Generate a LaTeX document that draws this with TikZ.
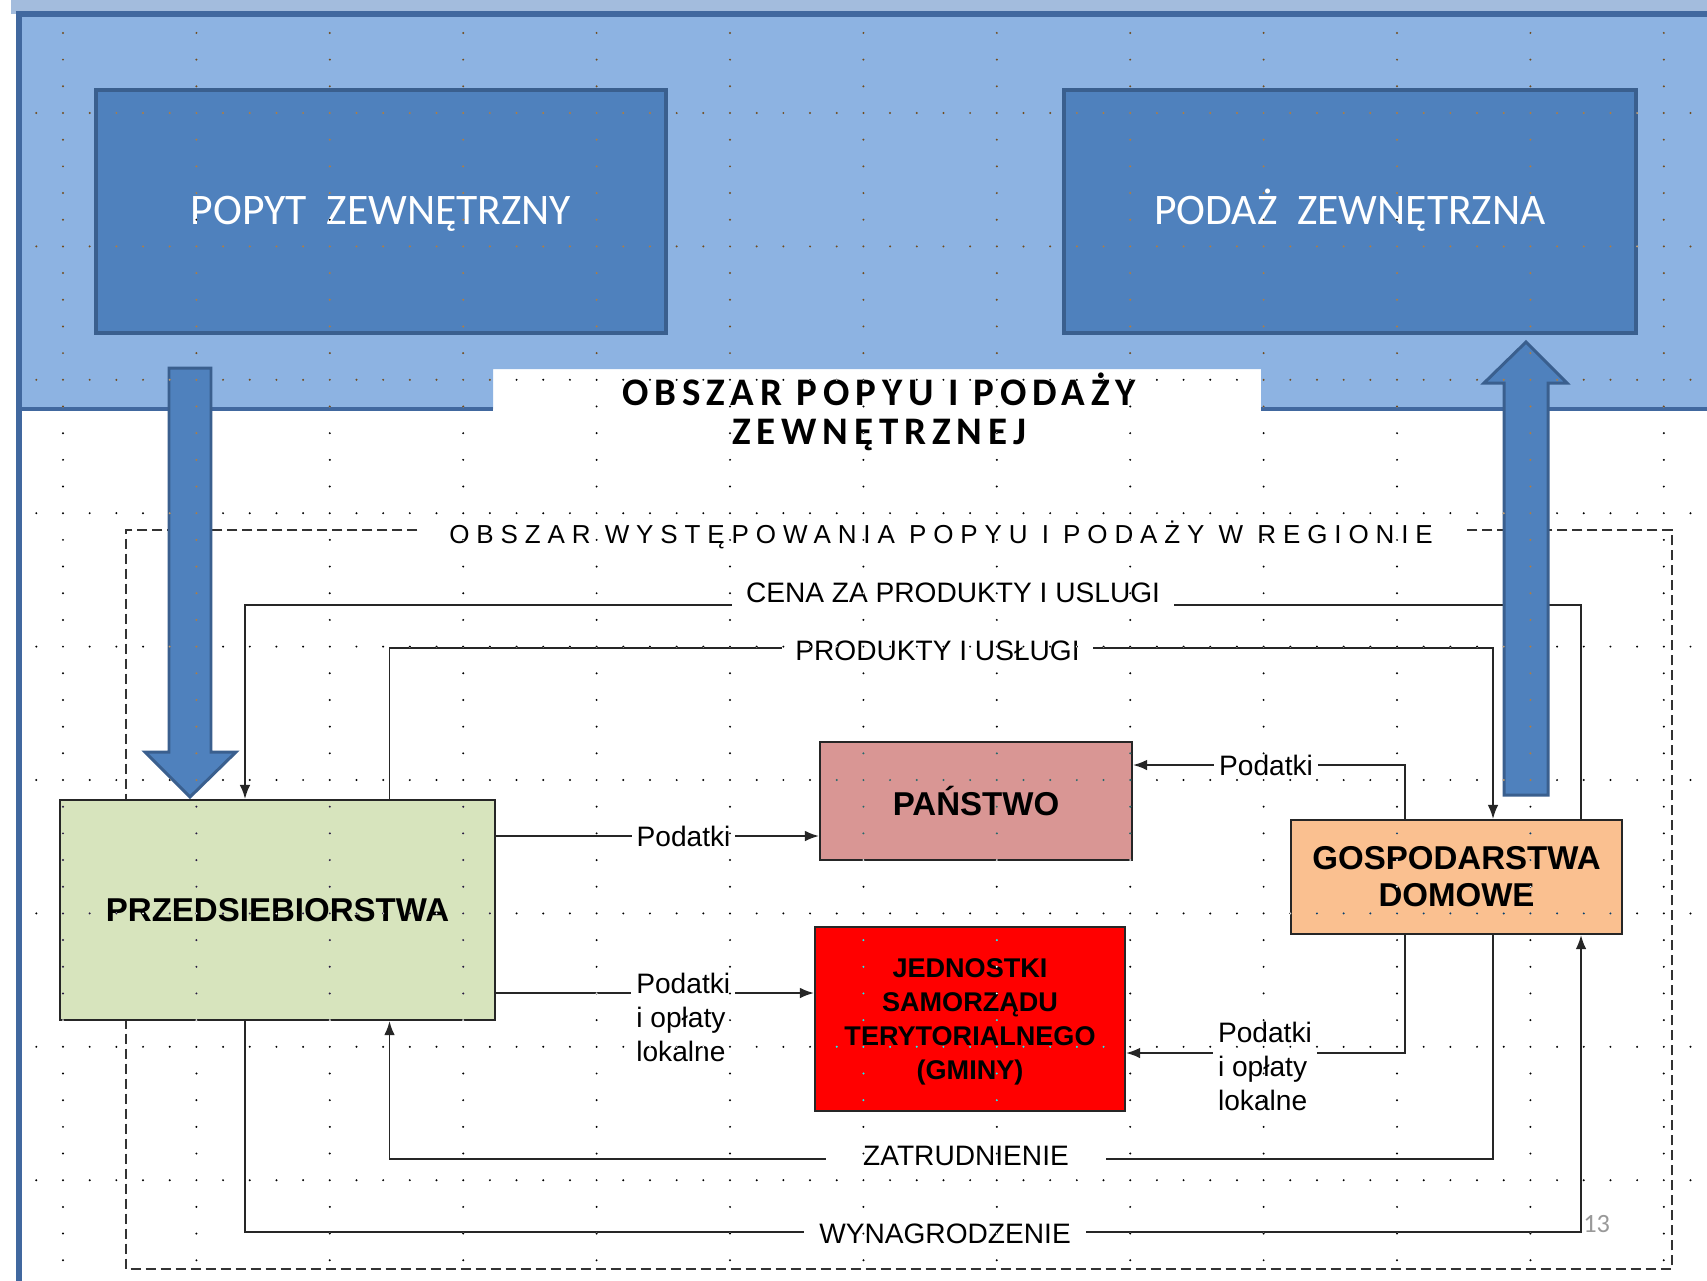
\documentclass[tikz,border=0pt]{standalone}
\usepackage{fontspec}
\setmainfont{Liberation Sans}
\newfontfamily\calibri{Carlito}
\newfontfamily\titlefont[LetterSpace=15]{Carlito}
\newfontfamily\spacedfont[LetterSpace=26.5]{Liberation Sans}
\usepackage{tikz}
\usetikzlibrary{arrows.meta}
\definecolor{stripblue}{HTML}{A3BCDD}
\definecolor{areablue}{HTML}{8DB3E2}
\definecolor{arealine}{HTML}{41689F}
\definecolor{boxblue}{HTML}{4F81BD}
\definecolor{boxline}{HTML}{3A5F8E}
\definecolor{przedgreen}{HTML}{D7E4BD}
\definecolor{panstwopink}{HTML}{D99694}
\definecolor{gospfill}{HTML}{FAC090}
\colorlet{flowcolor}{black!85}
\tikzstyle{flowhead}=[>/.tip={Latex[length=8pt,width=6pt]}]
\tikzstyle{flow}=[line width=1.1pt,draw=flowcolor,flowhead,->]
\tikzstyle{lab}=[fill=white,inner xsep=1mm,inner ysep=1.2mm,font=\fontsize{16}{19.6}\selectfont]
\tikzstyle{outer}=[draw=boxline,fill=boxblue,line width=2.3pt,inner sep=0pt,text=white,font=\calibri\fontsize{24.8}{30}\selectfont]
\tikzstyle{actor}=[draw=flowcolor,line width=1.1pt,inner sep=0pt,align=center,font=\bfseries\fontsize{18.8}{21}\selectfont]
\tikzstyle{regionline}=[draw=black!80,line width=1pt,dash pattern=on 2mm off 1mm]
\tikzstyle{bigarrow}=[fill=boxblue,draw=boxline,line width=1.7pt,line join=miter]

\begin{document}
\begin{tikzpicture}[x=0.2mm,y=-0.2mm]
	\useasboundingbox (0,0) rectangle (1707,1280);
	\fill[white] (0,0) rectangle (1707,1280);
	% area of external supply and demand
	\fill[stripblue] (11,0) rectangle (1707,14);
	\fill[areablue] (19,14) -- (1720,14) -- (1720,409) -- (1261,409) -- (1261,369)
	  -- (493,369) -- (493,409) -- (19,409) -- cycle;
	\draw[arealine,line width=3.1pt] (19,1290) -- (19,14) -- (1720,14);
	\draw[arealine,line width=2.3pt] (19,409) -- (493,409) (1261,409) -- (1720,409);
	\node[outer,minimum width=114mm,minimum height=48.6mm] (popyt) at (381,211.5) {\raisebox{-2.5mm}[0pt][0pt]{POPYT\ \ ZEWNĘTRZNY}};
	\node[outer,minimum width=114.4mm,minimum height=48.6mm] (podaz) at (1350,211.5) {\raisebox{-2.5mm}[0pt][0pt]{PODAŻ\ \ ZEWNĘTRZNA}};
	\node[anchor=base,inner sep=0pt,font=\titlefont\bfseries\fontsize{22.2}{22.2}\selectfont] (title) at (879,405)
	  {\begin{tabular}[t]{@{}c@{}}OBSZAR POPYU I PODAŻY\\ZEWNĘTRZNEJ\end{tabular}};

	% region frame
	\coordinate (dashTL) at (126,530);
	\coordinate (dashBL) at (126,1269);
	\coordinate (dashBR) at (1672,1269);
	\coordinate (dashTR) at (1672,530);
	\node[anchor=base,inner xsep=6.3mm,inner ysep=1mm,font=\spacedfont\fontsize{14.8}{18}\selectfont] (lregion) at (941,543)
	  {OBSZAR WYSTĘPOWANIA POPYU I PODAŻY W REGIONIE};
	\draw[regionline] (lregion.west |- dashTL) -- (dashTL) -- (dashBL) -- (dashBR) -- (dashTR) -- (lregion.east |- dashTR);

	% actors
	\node[actor,fill=przedgreen,minimum width=87mm,minimum height=44mm] (przed) at (277.5,910) {PRZEDSIEBIORSTWA};
	\node[actor,fill=panstwopink,minimum width=62.4mm,minimum height=23.6mm] (panstwo) at (976,801) {PAŃSTWO};
	\node[actor,fill=red,minimum width=62mm,minimum height=36.8mm,font=\bfseries\fontsize{15.4}{19.3}\selectfont] (jst) at (970,1019)
	  {\raisebox{8.26mm}[0pt][0pt]{\begin{tabular}[t]{@{}c@{}}JEDNOSTKI\\SAMORZĄDU\\TERYTORIALNEGO\\(GMINY)\end{tabular}}};
	\node[actor,fill=gospfill,minimum width=66.2mm,minimum height=22.8mm] (gosp) at (1456.5,877) {GOSPODARSTWA\\DOMOWE};

	% flows
	\coordinate (cA) at (245,0);
	\coordinate (cB) at (389.5,0);
	\coordinate (cC) at (1405,0);
	\coordinate (cD) at (1493,0);
	\coordinate (cE) at (1581,0);
	\coordinate (rCena) at (0,605);
	\coordinate (rProd) at (0,648);
	\coordinate (rPanR) at (0,765);
	\coordinate (rPanL) at (0,836);
	\coordinate (rJstL) at (0,993);
	\coordinate (rJstR) at (0,1053);
	\coordinate (rZatr) at (0,1159);
	\coordinate (rWyn) at (0,1232);
	\draw[flow] (gosp.north -| cE) |- (rCena -| cA) -- (przed.north -| cA);
	\draw[flow] (przed.north -| cB) |- (rProd -| cD) -- (gosp.north -| cD);
	\draw[flow] (przed.east |- rPanL) -- (panstwo.west |- rPanL);
	\draw[flow] (przed.east |- rJstL) -- (jst.west |- rJstL);
	\draw[flow] (gosp.north -| cC) |- (panstwo.east |- rPanR);
	\draw[flow] (gosp.south -| cC) |- (jst.east |- rJstR);
	\draw[flow] (gosp.south -| cD) |- (rZatr -| cB) -- (przed.south -| cB);
	\draw[flow] (przed.south -| cA) |- (rWyn -| cE) -- (gosp.south -| cE);
	\node[lab,anchor=base,inner xsep=2.8mm] (lcena) at (953,602) {CENA ZA PRODUKTY I USLUGI};
	\node[lab,anchor=base,inner xsep=2.6mm] (lprod) at (937.5,660) {PRODUKTY I USŁUGI};
	\node[lab,anchor=base] (lpodP) at (683.5,846) {Podatki};
	\node[lab,anchor=base west] (lpodJ) at (631,993) {\begin{tabular}[t]{@{}l@{}}Podatki\\i opłaty\\lokalne\end{tabular}};
	\node[lab,anchor=base] (lpodG) at (1266,775) {Podatki};
	\node[lab,anchor=base west] (lpodGJ) at (1212.7,1042) {\begin{tabular}[t]{@{}l@{}}Podatki\\i opłaty\\lokalne\end{tabular}};
	\node[lab,anchor=base,inner xsep=7.5mm] (lzatr) at (966,1165) {ZATRUDNIENIE};
	\node[lab,anchor=base,inner xsep=3mm] (lwyn) at (945,1243) {WYNAGRODZENIE};
	\node[anchor=base west,inner sep=0pt,text=black!40,font=\calibri\fontsize{15}{15}\selectfont] (pagenum) at (1583,1232) {13};

	% big arrows
	\draw[bigarrow] (169,368) -- (211,368) -- (211,752) -- (236,752) -- (190,797) -- (145,752) -- (169,752) -- cycle;
	\draw[bigarrow] (1504,795) -- (1548,795) -- (1548,383) -- (1567,383) -- (1526,342) -- (1484,383) -- (1504,383) -- cycle;

	% grid
	\begin{scope}[blend mode=difference]
	  \foreach \k in {0,...,8}
	    \foreach \m in {-1,...,61}
	      \fill[white] (63+26.68*\m,113+133.4*\k) circle (1.1);
	  \foreach \k in {0,...,12}
	    \foreach \n in {-3,...,44}{
	      \pgfmathtruncatemacro\r{mod(\n+10,5)}
	      \ifnum\r=0 \else \fill[white] (63+133.4*\k,113+26.68*\n) circle (1.1); \fi
	    }
	\end{scope}
\end{tikzpicture}
\end{document}
